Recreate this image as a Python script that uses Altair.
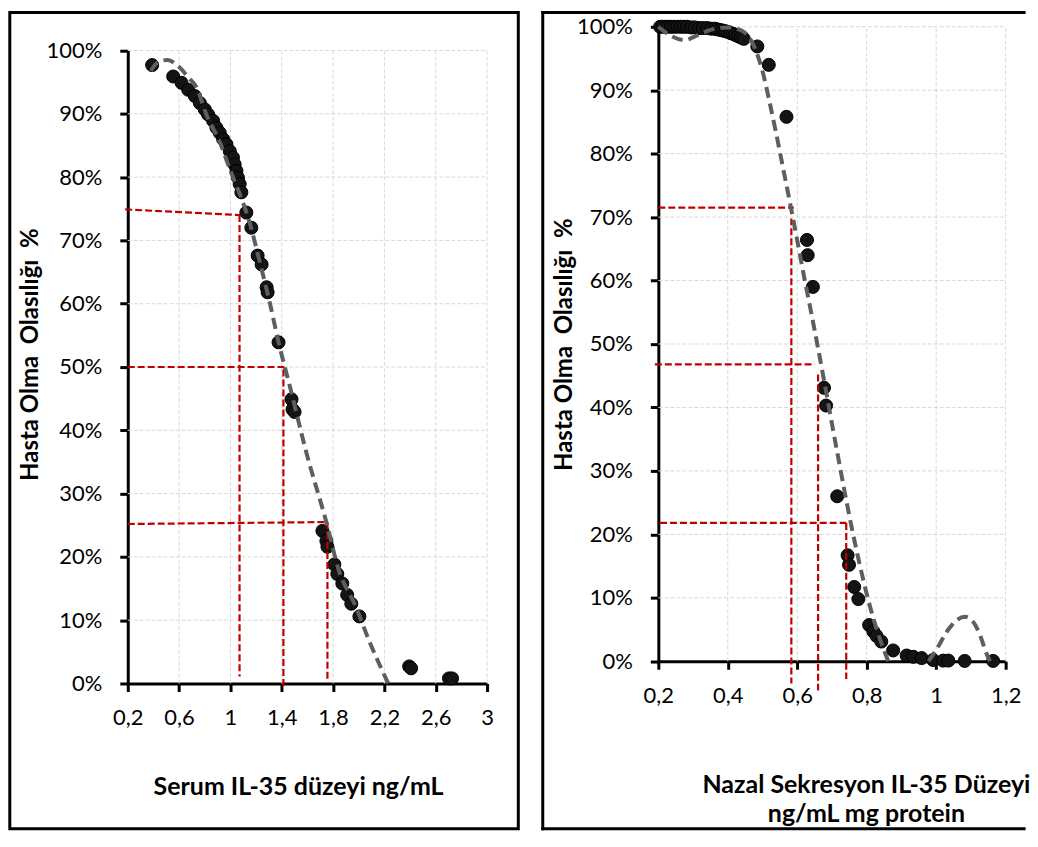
import altair as alt
import pandas as pd

# ---------------- data ----------------
y_ticks = [0.0, 0.1, 0.2, 0.3, 0.4, 0.5, 0.6, 0.7, 0.8, 0.9, 1.0]

# Left panel: serum IL-35
serum_xticks = [0.2, 0.6, 1.0, 1.4, 1.8, 2.2, 2.6, 3.0]
serum_x = [0.39, 0.554, 0.619, 0.671, 0.723, 0.762, 0.80, 0.826, 0.865, 0.891,
           0.917, 0.943, 0.969, 0.995, 1.02, 1.033, 1.047, 1.059, 1.072, 1.085,
           1.124, 1.163, 1.212, 1.243, 1.282, 1.29, 1.375, 1.476, 1.484, 1.5,
           1.717, 1.748, 1.756, 1.81, 1.833, 1.872, 1.91, 1.942, 2.005, 2.393,
           2.408, 2.703, 2.727]
serum_pct = [97.7, 95.9, 94.9, 93.8, 92.8, 91.7, 90.7, 89.9, 88.9, 87.8,
             87.0, 86.0, 85.2, 84.1, 83.1, 82.0, 81.0, 79.9, 78.9, 77.6,
             74.4, 72.0, 67.6, 66.2, 62.6, 61.8, 53.9, 44.9, 43.3, 42.9,
             24.1, 22.5, 21.6, 18.8, 17.3, 15.8, 14.0, 12.6, 10.6, 2.7,
             2.4, 0.8, 0.8]
serum_fit_x = [0.38, 0.44, 0.51, 0.59, 0.67, 0.74, 0.81, 0.92, 1.0, 1.06, 1.15,
               1.23, 1.305, 1.38, 1.46, 1.59, 1.75, 1.84, 1.98, 2.08, 2.23]
serum_fit_pct = [96.8, 98.2, 98.5, 97.6, 95.8, 94.0, 90.0, 85.4, 81.0, 78.0, 72.8,
                 66.5, 60.3, 53.5, 47.2, 36.6, 25.3, 18.2, 12.0, 6.8, 0.0]
serum_fit_seg = ["a"] * len(serum_fit_x)
serum_ref_x = [0.18, 1.071, 0.2, 1.413, 0.2, 1.756]
serum_ref_x2 = [1.076, 1.071, 1.437, 1.413, 1.753, 1.756]
serum_ref_p = [74.9, 74.0, 50.0, 49.6, 25.2, 25.5]
serum_ref_p2 = [74.0, 1.1, 50.0, -0.7, 25.5, 0.3]

# Right panel: nasal secretion IL-35
nasal_xticks = [0.2, 0.4, 0.6, 0.8, 1.0, 1.2]
nasal_x = [0.205, 0.212, 0.22, 0.228, 0.236, 0.245, 0.255, 0.265, 0.274, 0.283,
           0.295, 0.305, 0.317, 0.328, 0.341, 0.352, 0.362, 0.369, 0.378, 0.386,
           0.393, 0.40, 0.408, 0.415, 0.422, 0.43, 0.438, 0.446, 0.485, 0.518,
           0.569, 0.628, 0.630, 0.645, 0.677, 0.683, 0.715, 0.745, 0.749, 0.764,
           0.776, 0.807, 0.819, 0.828, 0.842, 0.876, 0.915, 0.934, 0.958, 0.991,
           1.02, 1.035, 1.082, 1.164]
nasal_pct = [100, 100, 100, 100, 100, 100, 100, 100, 100, 100,
             99.9, 99.9, 99.8, 99.8, 99.8, 99.7, 99.7, 99.6, 99.5, 99.4,
             99.3, 99.2, 99.0, 98.9, 98.7, 98.5, 98.3, 98.1, 96.9, 94.0,
             85.8, 66.4, 64.0, 59.0, 43.1, 40.3, 26.0, 16.7, 15.2, 11.7,
             9.8, 5.7, 4.7, 4.0, 3.1, 1.7, 0.9, 0.7, 0.5, 0.2,
             0.1, 0.1, 0.05, 0.05]
nasal_fit_x = [0.2, 0.235, 0.275, 0.31, 0.35, 0.40, 0.44, 0.475, 0.50, 0.52, 0.54,
               0.56, 0.58, 0.60, 0.62, 0.64, 0.66, 0.68, 0.70, 0.72, 0.74, 0.76,
               0.78, 0.80, 0.82, 0.84, 0.862,
               0.978, 1.0, 1.035, 1.06, 1.083, 1.105, 1.125, 1.145, 1.155]
nasal_fit_pct = [100, 98.6, 97.9, 98.6, 99.5, 99.9, 99.4, 97.0, 93.0, 88.2, 83.0,
                 77.5, 72.0, 66.3, 60.5, 55.0, 49.3, 43.4, 37.4, 31.5, 25.7, 20.2,
                 15.2, 10.6, 6.6, 3.2, 0.0,
                 0.0, 1.8, 5.0, 6.5, 7.0, 6.3, 4.3, 1.2, 0.0]
nasal_fit_seg = ["a"] * 27 + ["b"] * 9
nasal_ref_x = [0.2, 0.583, 0.19, 0.66, 0.205, 0.741]
nasal_ref_x2 = [0.59, 0.583, 0.65, 0.66, 0.741, 0.741]
nasal_ref_p = [71.5, 69.8, 46.8, 45.2, 21.8, 21.8]
nasal_ref_p2 = [71.5, -3.5, 46.8, -4.6, 21.8, -2.8]

y_title = "Hasta Olma\u00a0 Olasılığı\u00a0 %"

# ---------------- styling ----------------
FONT = "Lato"
H = 658
X_FMT = "replace(format(datum.value, '~g'), '.', ',')"
one = pd.DataFrame({"k": [0]})


def x_axis(ticks, title, tx, ty, offset):
    return alt.Axis(values=ticks, labelExpr=X_FMT, grid=False, offset=offset,
                    domainColor="black", domainWidth=3, tickColor="black",
                    tickWidth=3, tickSize=8, labelFont=FONT, labelFontSize=22,
                    labelColor="black", labelBaseline="alphabetic",
                    labelPadding=33, labelFlush=False, labelOverlap=False,
                    title=title, titleFont=FONT, titleFontSize=25,
                    titleFontWeight="bold", titleColor="black", titleX=tx,
                    titleY=ty, titleAlign="center", titleBaseline="alphabetic",
                    titleAngle=0, titleLineHeight=29)


def y_axis(tx, ty):
    return alt.Axis(values=y_ticks, format=".0%", grid=False,
                    domainColor="black", domainWidth=3, tickColor="black",
                    tickWidth=3, tickSize=8, labelFont=FONT, labelFontSize=22,
                    labelColor="black", labelPadding=18, labelOverlap=False,
                    labelFlush=False,
                    title=y_title, titleFont=FONT,
                    titleFontSize=24, titleFontWeight="bold", titleColor="black",
                    titleX=tx, titleY=ty, titleAngle=270, titleAlign="center",
                    titleBaseline="middle")


def panel(px, pp, fx, fp, fseg, rx, rx2, rp, rp2, xticks, xmax, width,
          y_range, xax, yax, frame):
    sx = alt.Scale(domain=[0.2, xmax], nice=False, zero=False)
    sy = alt.Scale(domain=[0, 1], range=y_range, nice=False, zero=False)

    def X():
        return alt.X("x:Q", scale=sx, axis=xax)

    def Y():
        return alt.Y("y:Q", scale=sy, axis=yax)

    vgrid = pd.DataFrame({"x": xticks[1:], "y": [0.0] * (len(xticks) - 1),
                          "y2": [1.0] * (len(xticks) - 1)})
    hgrid = pd.DataFrame({"y": y_ticks[1:], "x": [0.2] * (len(y_ticks) - 1),
                          "x2": [xmax] * (len(y_ticks) - 1)})
    refs = pd.DataFrame({"x": rx, "x2": rx2, "y": [v / 100 for v in rp],
                         "y2": [v / 100 for v in rp2]})
    pts = pd.DataFrame({"x": px, "y": [v / 100 for v in pp]})
    fit = pd.DataFrame({"x": fx, "y": [v / 100 for v in fp], "seg": fseg})

    grid_style = dict(color="#d9d9d9", strokeWidth=1, strokeDash=[4, 2])
    layers = [
        alt.Chart(vgrid).mark_rule(**grid_style).encode(x=X(), y=Y(), y2="y2:Q"),
        alt.Chart(hgrid).mark_rule(**grid_style).encode(y=Y(), x=X(), x2="x2:Q"),
        alt.Chart(pts).mark_circle(size=170, color="#141414", opacity=1,
                                   stroke="black", strokeWidth=1).encode(x=X(), y=Y()),
        alt.Chart(refs).mark_rule(color="#c00000", strokeWidth=2.2,
                                  strokeDash=[7, 3]).encode(x=X(), y=Y(), x2="x2:Q", y2="y2:Q"),
        alt.Chart(fit).mark_line(color="#5e5e5e", strokeWidth=4, strokeDash=[11, 6],
                                 interpolate="monotone").encode(x=X(), y=Y(), detail="seg:N"),
    ] + frame
    return alt.layer(*layers).properties(width=width, height=H)


left_frame = [
    alt.Chart(one).mark_rect(fillOpacity=0, stroke="black", strokeWidth=3).encode(
        x=alt.value(-118.2), x2=alt.value(391.3), y=alt.value(-14.3), y2=alt.value(803.5))
]
right_frame = [
    alt.Chart(one).mark_rule(color="black", strokeWidth=3).encode(
        x=alt.value(-115.8), y=alt.value(-15.8), y2=alt.value(805)),
    alt.Chart(one).mark_rule(color="black", strokeWidth=3).encode(
        x=alt.value(-117.3), x2=alt.value(368), y=alt.value(-14.3)),
    alt.Chart(one).mark_rule(color="black", strokeWidth=3).encode(
        x=alt.value(-117.3), x2=alt.value(368), y=alt.value(803.5)),
]

left = panel(serum_x, serum_pct, serum_fit_x, serum_fit_pct, serum_fit_seg,
             serum_ref_x, serum_ref_x2, serum_ref_p, serum_ref_p2,
             serum_xticks, 3.0, 360, [H, 23.8],
             x_axis(serum_xticks, "Serum IL-35 düzeyi ng/mL", 170.6, 111.3, 0),
             y_axis(-97.7, 328), left_frame)

right = panel(nasal_x, nasal_pct, nasal_fit_x, nasal_fit_pct, nasal_fit_seg,
              nasal_ref_x, nasal_ref_x2, nasal_ref_p, nasal_ref_p2,
              nasal_xticks, 1.2, 348, [635.7, 0],
              x_axis(nasal_xticks, ["Nazal Sekresyon IL-35 Düzeyi", "ng/mL mg protein"],
                     208, 132, -22.3),
              y_axis(-94.3, 318), right_frame)

chart = alt.hconcat(left, right, spacing=171.6, bounds="flush", padding=0).configure_view(
    strokeWidth=0)

chart.save("out.html", embed_options={"renderer": "svg", "actions": False})
